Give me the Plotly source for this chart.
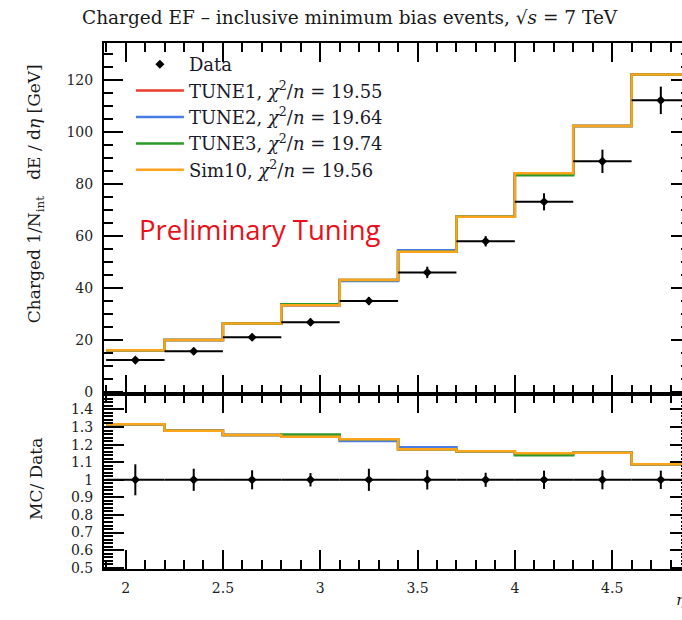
import plotly.graph_objects as go

# ---------------- data ----------------
bin_edges = [1.9, 2.2, 2.5, 2.8, 3.1, 3.4, 3.7, 4.0, 4.3, 4.6, 4.9]
data_vals = [12.2, 15.6, 21.0, 26.8, 35.0, 46.0, 58.0, 73.2, 88.8, 112.3]
data_errs = [1.2, 1.2, 1.3, 1.4, 1.5, 2.2, 2.0, 3.3, 4.5, 5.3]
ratio_errs = [0.088, 0.063, 0.054, 0.038, 0.063, 0.055, 0.040, 0.052, 0.054, 0.052]

# MC / Data ratios per generator setting
ratio_tune1 = [1.315, 1.279, 1.254, 1.245, 1.230, 1.173, 1.162, 1.151, 1.153, 1.089]
ratio_tune2 = [1.315, 1.279, 1.254, 1.245, 1.220, 1.185, 1.162, 1.146, 1.153, 1.089]
ratio_tune3 = [1.315, 1.279, 1.254, 1.258, 1.230, 1.173, 1.162, 1.140, 1.153, 1.089]
ratio_sim10 = [1.315, 1.279, 1.254, 1.245, 1.230, 1.173, 1.162, 1.151, 1.153, 1.089]

series_names = ["TUNE1", "TUNE2", "TUNE3", "Sim10"]
chi2_vals = ["19.55", "19.64", "19.74", "19.56"]
series_ratios = [ratio_tune1, ratio_tune2, ratio_tune3, ratio_sim10]
series_colors = ["#ee3b2a", "#4a7ce6", "#2a9a2a", "#fca41c"]

x_ticks = [2, 2.5, 3, 3.5, 4, 4.5]
x_ticklabels = ["2", "2.5", "3", "3.5", "4", "4.5"]
y_ticks = [0, 20, 40, 60, 80, 100, 120]
r_ticks = [0.5, 0.6, 0.7, 0.8, 0.9, 1.0, 1.1, 1.2, 1.3, 1.4]
r_ticklabels = ["0.5", "0.6", "0.7", "0.8", "0.9", "1", "1.1", "1.2", "1.3", "1.4"]

# ---------------- layout geometry (pixels) ----------------
W, H = 700, 620
ML, MR, MT, MB = 104, 8, 43, 50.7
PW = W - ML - MR
PH = H - MT - MB
split_px = 394.3
r_dom_top = (H - MB - split_px) / PH


def px_x(px):
    return (px - ML) / PW


def px_y(py):
    return (H - MB - py) / PH


serif = "DejaVu Serif"
fig = go.Figure()

centers = [(bin_edges[i] + bin_edges[i + 1]) / 2 for i in range(len(data_vals))]
halfw = [(bin_edges[i + 1] - bin_edges[i]) / 2 for i in range(len(data_vals))]
step_x = bin_edges

for k, (name, chi, rat, col) in enumerate(zip(series_names, chi2_vals, series_ratios, series_colors)):
    mc = [d * r for d, r in zip(data_vals, rat)]
    fig.add_trace(go.Scatter(
        x=step_x, y=mc + [mc[-1]], mode="lines", line=dict(color=col, width=2.5, shape="hv"),
        name=f"{name}, <i>χ</i><sup>2</sup>/<i>n</i> = {chi}", legendrank=k + 2,
        xaxis="x2", yaxis="y", showlegend=True))
    fig.add_trace(go.Scatter(
        x=step_x, y=rat + [rat[-1]], mode="lines", line=dict(color=col, width=2.5, shape="hv"),
        xaxis="x", yaxis="y2", showlegend=False))

fig.add_trace(go.Scatter(
    x=centers, y=data_vals, mode="markers", name="Data", legendrank=1,
    marker=dict(symbol="diamond", size=7, color="black"),
    error_x=dict(type="data", array=halfw, color="black", thickness=2, width=0),
    error_y=dict(type="data", array=data_errs, color="black", thickness=2, width=0),
    xaxis="x2", yaxis="y"))
fig.add_trace(go.Scatter(
    x=centers, y=[1.0] * len(centers), mode="markers", showlegend=False,
    marker=dict(symbol="diamond", size=7, color="black"),
    error_x=dict(type="data", array=halfw, color="black", thickness=2, width=0),
    error_y=dict(type="data", array=ratio_errs, color="black", thickness=2, width=0),
    xaxis="x", yaxis="y2"))

axis_common = dict(showline=True, linecolor="black", linewidth=2, mirror="allticks",
                   ticks="inside", tickcolor="black", tickwidth=1.8, showgrid=False,
                   zeroline=False, tickfont=dict(family=serif, size=14, color="#222"))
xrange = [1.889, 4.9]
fig.update_layout(
    width=W, height=H, margin=dict(l=ML, r=MR, t=MT, b=MB),
    paper_bgcolor="white", plot_bgcolor="white",
    xaxis=dict(domain=[0, 1], anchor="y2", range=xrange, tickvals=x_ticks, ticktext=x_ticklabels,
               ticklen=19, minor=dict(dtick=0.1, tick0=0, ticklen=9, ticks="inside",
                                      tickcolor="black", tickwidth=1.8),
               ticklabelstandoff=5, **axis_common),
    xaxis2=dict(domain=[0, 1], anchor="y", range=xrange, matches="x", tickvals=x_ticks,
                showticklabels=False, ticklen=19,
                minor=dict(dtick=0.1, tick0=0, ticklen=9, ticks="inside",
                           tickcolor="black", tickwidth=1.8), **axis_common),
    yaxis=dict(domain=[r_dom_top, 1], anchor="x2", range=[-0.9, 134.4], tickvals=y_ticks,
               ticklen=19, minor=dict(dtick=5, tick0=0, ticklen=9, ticks="inside",
                                      tickcolor="black", tickwidth=1.8),
               ticklabelstandoff=6, **axis_common),
    yaxis2=dict(domain=[0, r_dom_top], anchor="x", range=[0.493, 1.487], tickvals=r_ticks,
                ticktext=r_ticklabels, ticklen=20,
                minor=dict(dtick=0.02, tick0=0, ticklen=9, ticks="inside",
                           tickcolor="black", tickwidth=1.8),
                ticklabelstandoff=6, **axis_common),
    legend=dict(x=px_x(131), y=px_y(46), xanchor="left", yanchor="top", bgcolor="rgba(0,0,0,0)",
                font=dict(family=serif, size=18, color="#1a1a2a"), itemwidth=48,
                traceorder="normal"),
    showlegend=True,
)

fig.add_annotation(text="Charged EF – inclusive minimum bias events, √<i>s</i> = 7 TeV",
                   xref="paper", yref="paper", x=px_x(80), y=px_y(17), xanchor="left",
                   yanchor="middle", showarrow=False,
                   font=dict(family=serif, size=18.5, color="#1a1a1a"))
fig.add_annotation(text="Charged 1/N<sub>int</sub>   dE / d<i>η</i> [GeV]",
                   xref="paper", yref="paper", x=px_x(36), y=px_y(194), xanchor="center",
                   yanchor="middle", textangle=-90, showarrow=False,
                   font=dict(family=serif, size=17, color="#1a1a1a"))
fig.add_annotation(text="MC/ Data", xref="paper", yref="paper", x=px_x(36), y=px_y(479),
                   xanchor="center", yanchor="middle", textangle=-90, showarrow=False,
                   font=dict(family=serif, size=17, color="#1a1a1a"))
fig.add_annotation(text="Preliminary Tuning", xref="paper", yref="paper", x=px_x(137),
                   y=px_y(230), xanchor="left", yanchor="middle", showarrow=False,
                   font=dict(family="Open Sans", size=27.5, color="#e8101a"))
fig.add_annotation(text="<i>η</i>", xref="paper", yref="paper", x=px_x(676), y=px_y(600),
                   xanchor="left", yanchor="middle", showarrow=False,
                   font=dict(family=serif, size=15, color="#1a1a1a"))

fig.write_html("out.html", post_script="document.body.style.overflow='hidden';"
               "document.documentElement.style.overflow='hidden';")
